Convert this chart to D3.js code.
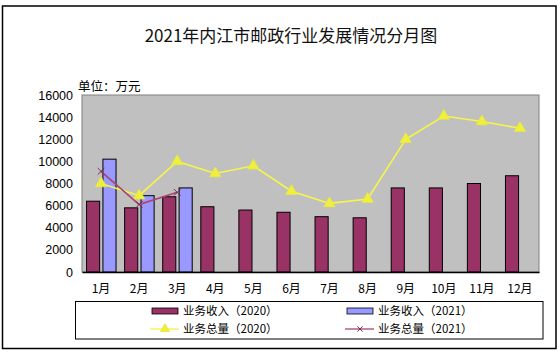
<!DOCTYPE html>
<html>
<head>
<meta charset="utf-8">
<script src="https://cdn.jsdelivr.net/npm/d3@7"></script>
<style>
  body { margin: 0; background: #fff; }
  svg text { font-family: "Liberation Sans", Arial, "Noto Sans CJK SC", sans-serif; }
  .cjk { font-family: "Noto Sans CJK SC", sans-serif; }
</style>
</head>
<body>
<svg id="chart" width="560" height="352"></svg>
<script>
// data (单位：万元)
const months = ["1月","2月","3月","4月","5月","6月","7月","8月","9月","10月","11月","12月"];
const income2020 = [6400, 5800, 6800, 5900, 5600, 5400, 5000, 4900, 7600, 7600, 8000, 8700];
const income2021 = [10200, 6900, 7600];
const total2020 = [8000, 6900, 10000, 8900, 9600, 7300, 6200, 6600, 12000, 14100, 13600, 13000];
const total2021 = [9100, 6100, 7200];
const yTicks = [0, 2000, 4000, 6000, 8000, 10000, 12000, 14000, 16000];

const svg = d3.select("#chart");

// outer frame
svg.append("rect")
  .attr("x", 2.5).attr("y", 6).attr("width", 553.5).attr("height", 342.5)
  .attr("fill", "#fff").attr("stroke", "#000").attr("stroke-width", 1.5);

svg.append("text")
  .attr("class", "cjk")
  .attr("x", 291).attr("y", 42)
  .attr("text-anchor", "middle")
  .attr("font-size", 17)
  .attr("fill", "#111")
  .text("2021年内江市邮政行业发展情况分月图");

let plotLeft = 82, plotRight = 539, plotTop = 95, plotBottom = 272;

let x = d3.scaleBand().domain(months).range([plotLeft, plotRight]);
let y = d3.scaleLinear().domain([0, 16000]).range([plotBottom, plotTop]);
let xSub = d3.scaleBand().domain(["2020", "2021"]).range([-14.5, 15]).paddingInner(0.2);

// plot area
svg.append("rect")
  .attr("x", plotLeft).attr("y", plotTop)
  .attr("width", plotRight - plotLeft).attr("height", plotBottom - plotTop)
  .attr("fill", "#c0c0c0").attr("stroke", "#808080").attr("stroke-width", 1);

svg.append("text")
  .attr("class", "cjk")
  .attr("x", 78).attr("y", 91)
  .attr("font-size", 12.5)
  .attr("fill", "#000")
  .text("单位：万元");

// y axis labels
let yAxis = d3.axisLeft(y).tickValues(yTicks).tickSize(0).tickPadding(9).tickFormat(d3.format("d"));
let gy = svg.append("g").attr("transform", `translate(${plotLeft},0)`).call(yAxis);
gy.select(".domain").remove();
gy.selectAll("text").attr("font-size", 12.5).attr("fill", "#000")
  .style("font-family", "'Liberation Sans', Arial, sans-serif");

// bars
let cx = m => x(m) + x.bandwidth() / 2;

svg.append("g").selectAll("rect")
  .data(income2020)
  .join("rect")
  .attr("x", (d, i) => cx(months[i]) + xSub("2020"))
  .attr("y", d => y(d))
  .attr("width", xSub.bandwidth())
  .attr("height", d => plotBottom - y(d))
  .attr("fill", "#993366").attr("stroke", "#000").attr("stroke-width", 1);

svg.append("g").selectAll("rect")
  .data(income2021)
  .join("rect")
  .attr("x", (d, i) => cx(months[i]) + xSub("2021"))
  .attr("y", d => y(d))
  .attr("width", xSub.bandwidth())
  .attr("height", d => plotBottom - y(d))
  .attr("fill", "#9999ff").attr("stroke", "#000").attr("stroke-width", 1);

// x axis
let xAxis = d3.axisBottom(x).tickSize(0).tickPadding(12);
let gx = svg.append("g").attr("transform", `translate(0,${plotBottom})`).call(xAxis);
gx.select(".domain").attr("stroke", "#000").attr("stroke-width", 1.5);
gx.selectAll("text").attr("font-size", 12).attr("fill", "#000")
  .style("font-family", "'Noto Sans CJK SC', sans-serif");

// lines
let line = d3.line().x((d, i) => cx(months[i])).y(d => y(d));

svg.append("path")
  .datum(total2020)
  .attr("d", line)
  .attr("fill", "none").attr("stroke", "#f5f54a").attr("stroke-width", 1.6);

let tri = d3.symbol().type(d3.symbolTriangle).size(55);
svg.append("g").selectAll("path")
  .data(total2020)
  .join("path")
  .attr("d", tri)
  .attr("transform", (d, i) => `translate(${cx(months[i])},${y(d)})`)
  .attr("fill", "#f0f03c").attr("stroke", "#e8e840").attr("stroke-width", 0.8);

svg.append("path")
  .datum(total2021)
  .attr("d", line)
  .attr("fill", "none").attr("stroke", "#a8456e").attr("stroke-width", 1.6);

let cross = d3.symbol().type(d3.symbolTimes).size(30);
svg.append("g").selectAll("path")
  .data(total2021)
  .join("path")
  .attr("d", cross)
  .attr("transform", (d, i) => `translate(${cx(months[i])},${y(d)})`)
  .attr("fill", "#7a2a50").attr("stroke", "#7a2a50").attr("stroke-width", 1);

// legend
let legend = svg.append("g");
legend.append("rect")
  .attr("x", 75.5).attr("y", 301.5).attr("width", 467.5).attr("height", 37.5)
  .attr("fill", "#fff").attr("stroke", "#000").attr("stroke-width", 1);

let items = [
  { label: "业务收入（2020）", kind: "bar", color: "#993366", x: 152, y: 311 },
  { label: "业务收入（2021）", kind: "bar", color: "#9999ff", x: 347, y: 311 },
  { label: "业务总量（2020）", kind: "line", color: "#f5f54a", x: 152, y: 329 },
  { label: "业务总量（2021）", kind: "line", color: "#a8456e", x: 347, y: 329 }
];

items.forEach(it => {
  if (it.kind == "bar") {
    legend.append("rect")
      .attr("x", it.x).attr("y", it.y - 3).attr("width", 26).attr("height", 6)
      .attr("fill", it.color).attr("stroke", "#000").attr("stroke-width", 0.8);
  } else {
    legend.append("line")
      .attr("x1", it.x - 2).attr("x2", it.x + 27).attr("y1", it.y).attr("y2", it.y)
      .attr("stroke", it.color).attr("stroke-width", 1.3);
    legend.append("path")
      .attr("d", it.color == "#f5f54a" ? tri.size(35)() : cross.size(20)())
      .attr("transform", `translate(${it.x + 13},${it.y})`)
      .attr("fill", it.color == "#f5f54a" ? "#f0f03c" : "#7a2a50")
      .attr("stroke", it.color == "#f5f54a" ? "#e8e840" : "#7a2a50");
  }
  legend.append("text")
    .attr("class", "cjk")
    .attr("x", it.x + 31).attr("y", it.y + 4)
    .attr("font-size", 11.5)
    .attr("fill", "#000")
    .text(it.label);
});
</script>
</body>
</html>
